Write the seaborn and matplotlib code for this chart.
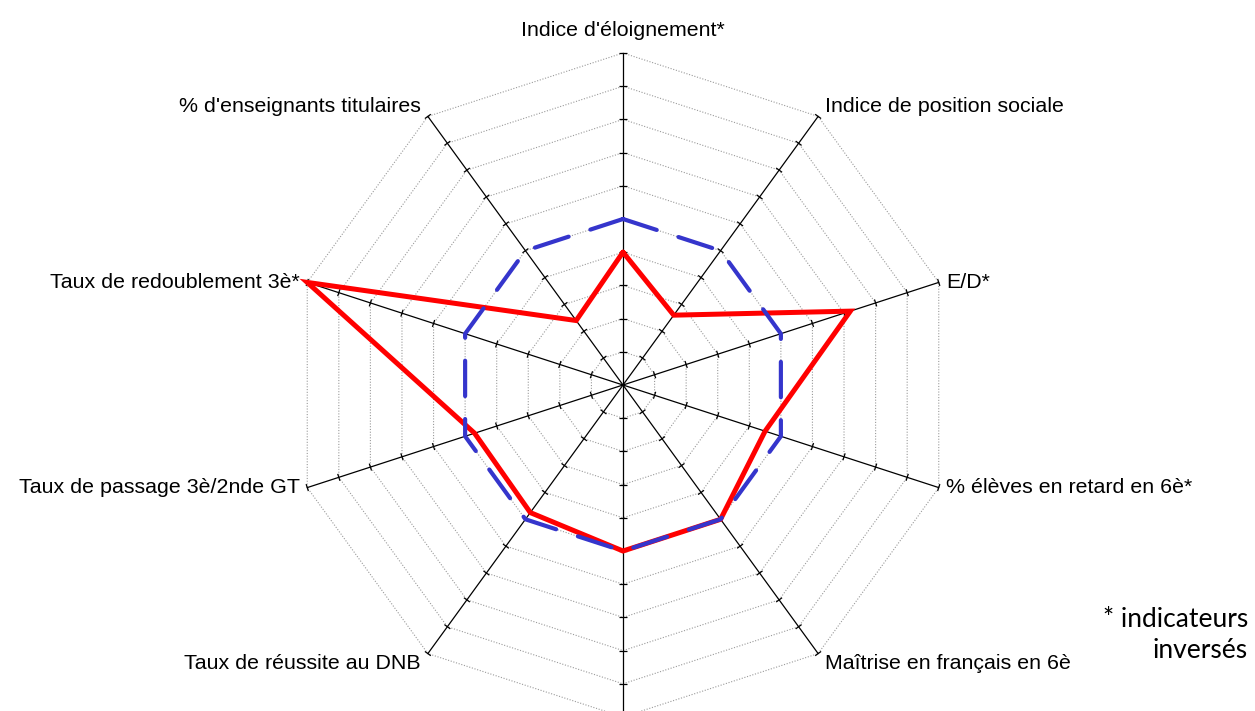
import numpy as np
import pandas as pd
import seaborn as sns
import matplotlib.pyplot as plt
from matplotlib.collections import LineCollection

# axes clockwise from the top; the bottom label is cut off in the source
categories = [
    "Indice d'éloignement*",
    "Indice de position sociale",
    "E/D*",
    "% élèves en retard en 6è*",
    "Maîtrise en français en 6è",
    "",
    "Taux de réussite au DNB",
    "Taux de passage 3è/2nde GT",
    "Taux de redoublement 3è*",
    "% d'enseignants titulaires",
]
etablissement = [4.0, 2.6, 7.2, 4.5, 5.0, 5.0, 4.75, 4.7, 10.0, 2.4]
reference = [5.0] * 10
levels = list(range(1, 11))


def to_xy(values):
    n = len(values)
    ang = np.arange(n) * 2 * np.pi / n
    v = np.asarray(values, dtype=float)
    return v * np.sin(ang), v * np.cos(ang)


def closed(values, name):
    x, y = to_xy(values)
    x = np.append(x, x[0])
    y = np.append(y, y[0])
    return pd.DataFrame({"x": x, "y": y, "serie": name, "i": range(len(x))})


def main():
    sns.set_theme(style="white")
    plt.rcParams["font.family"] = ["Liberation Sans", "DejaVu Sans"]
    fig = plt.figure(figsize=(12.55, 7.11), dpi=100)
    ax = fig.add_axes([0, 0, 1, 1])
    unit = 33.2  # pixels per level
    ax.set_axis_off()

    n = len(categories)
    ang = np.arange(n) * 2 * np.pi / n

    # dotted rings
    for lv in levels:
        x, y = to_xy([lv] * n)
        ax.plot(np.append(x, x[0]), np.append(y, y[0]), color="#9a9a9a",
                lw=0.8, ls=(0, (1, 1.5)), zorder=1)

    # spokes and ticks
    for a in ang:
        ax.plot([0, 10 * np.sin(a)], [0, 10 * np.cos(a)], color="black",
                lw=0.9, zorder=2)
    segs = []
    h = 0.11
    for a in ang:
        px, py = np.cos(a), -np.sin(a)
        for lv in levels:
            cx, cy = lv * np.sin(a), lv * np.cos(a)
            segs.append([(cx - h * px, cy - h * py), (cx + h * px, cy + h * py)])
    ax.add_collection(LineCollection(segs, colors="black", linewidths=0.9,
                                     zorder=2))

    df_e = closed(etablissement, "Établissement")
    df_r = closed(reference, "Référence")
    sns.lineplot(data=df_e, x="x", y="y", sort=False, estimator=None,
                 color="#ff0000", linewidth=3.6, ax=ax, zorder=3,
                 solid_joinstyle="miter")
    sns.lineplot(data=df_r, x="x", y="y", sort=False, estimator=None,
                 color="#3535cc", linewidth=3.0, ax=ax, zorder=4,
                 linestyle=(0, (8.5, 5.5)), dash_capstyle="round")
    ax.set_xlim(-623 / unit, (1255 - 623) / unit)
    ax.set_ylim(-326 / unit, 385 / unit)
    ax.set_axis_off()
    if ax.get_legend():
        ax.get_legend().remove()

    # category labels
    fs = 15.4
    for a, lab in zip(ang, categories):
        if not lab:
            continue
        sx, cy = np.sin(a), np.cos(a)
        x, y = 10 * sx, 10 * cy
        if abs(sx) < 0.01:
            ax.text(x, y + 0.4, lab, ha="center", va="bottom", fontsize=fs,
                    color="black")
            continue
        ha = "left" if sx > 0 else "right"
        dx = 0.22 if sx > 0 else -0.22
        if abs(cy) < 0.5:
            va = "center"
            dy = 0.0
        elif cy > 0:
            va = "bottom"
            dy = 0.02
        else:
            va = "top"
            dy = -0.02
        ax.text(x + dx, y + dy, lab, ha=ha, va=va, fontsize=fs, color="black")

    fig.text(1248 / 1255, 1 - 635 / 711, "* indicateurs\ninversés",
             ha="right", va="center", fontsize=19, color="black",
             family=["Lato", "DejaVu Sans"], linespacing=1.32)

    fig.savefig("out.png", dpi=100)


if __name__ == "__main__":
    main()
